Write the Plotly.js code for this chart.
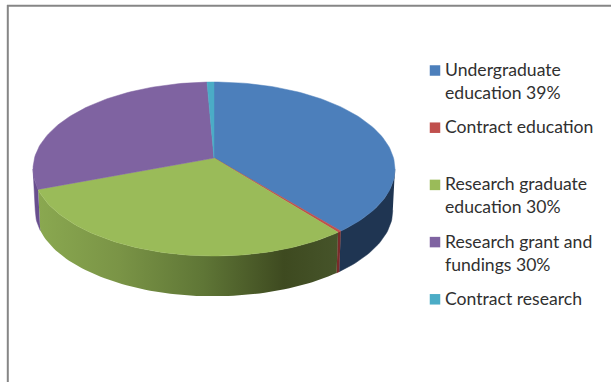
<!DOCTYPE html>
<html>
<head>
<meta charset="utf-8">
<script src="https://cdn.plot.ly/plotly-3.0.1.min.js"></script>
<style>html,body{margin:0;padding:0;background:#fff;overflow:hidden}</style>
</head>
<body>
<div id="chart" style="width:611px;height:382px"></div>
<script>
// Budget shares, clockwise from twelve o'clock
const categories = ["Undergraduate education", "Contract education", "Research graduate education", "Research grant and fundings", "Contract research"];
const shares = [39, 0.3, 30, 30, 0.7];
const legendLabels = ["Undergraduate<br>education 39%", "Contract education", "Research graduate<br>education 30%", "Research grant and<br>fundings 30%", "Contract research"];
const topColors = ["#4c7fbb", "#c0504d", "#9abb59", "#7f63a1", "#4bacc6"];
const wallColors = ["#1f3552", "#7a2b2a", "#5f7636", "#684f8e", "#2d7f95"];
// Rim shading of the large front slice, left to right
const greenWallScale = [[0, "#8aa850"], [0.27, "#7a9446"], [0.55, "#5f7636"], [0.82, "#3e4a20"], [1, "#46542a"]];

// Disc projection: pixel centre, half-axes and perspective strength
const cx = 214, cy = 158, halfW = 179.5, halfH = 85.6, persp = 0.1264;
const wallDrop = 41.5, wallShrink = 0.988;

function rimTop(deg) {
  const t = deg * Math.PI / 180, X = Math.sin(t), Y = -Math.cos(t), w = 1 - persp * Y;
  return [halfW * X / w, halfH * Y / w];
}
function arc(a0, a1) {
  const n = Math.max(2, Math.ceil((a1 - a0) / 1.5)), pts = [];
  for (let i = 0; i <= n; i++) pts.push(rimTop(a0 + (a1 - a0) * i / n));
  return pts;
}

// Only the front part of the rim faces the viewer; it runs between the two silhouette angles
const frontStart = 90 + Math.asin(persp) * 180 / Math.PI, frontEnd = 360 - frontStart;

const total = shares.reduce((s, v) => s + v, 0);
const walls = [], tops = [];
let angle = 0;
shares.forEach((v, i) => {
  const a0 = angle, a1 = angle + 360 * v / total;
  angle = a1;
  const rim = arc(a0, a1);

  const w0 = Math.max(a0, frontStart), w1 = Math.min(a1, frontEnd);
  if (w1 > w0) {
    const front = arc(w0, w1);
    const wx = front.map(p => cx + p[0]).concat(front.slice().reverse().map(p => cx + p[0] * wallShrink));
    const wy = front.map(p => cy + p[1]).concat(front.slice().reverse().map(p => cy + p[1] * wallShrink + wallDrop));
    const wall = {
      type: "scatter", mode: "lines", x: wx, y: wy, fill: "toself", name: categories[i],
      line: {width: 0.5, color: wallColors[i]}, fillcolor: wallColors[i], hoverinfo: "skip", showlegend: false
    };
    if (i === 2) {
      wall.fillgradient = {type: "horizontal", colorscale: greenWallScale};
      wall.line = {width: 0};
    }
    walls.push(wall);
  }

  tops.push({
    type: "scatter", mode: "lines", fill: "toself", name: categories[i],
    x: [cx].concat(rim.map(p => cx + p[0]), [cx]),
    y: [cy].concat(rim.map(p => cy + p[1]), [cy]),
    line: {width: 0.5, color: topColors[i]}, fillcolor: topColors[i], hoverinfo: "skip", showlegend: false
  });
});

// Key on the right: one swatch and one label per category
const keyX = 435, keyTextX = 442.5, keyFirstY = 70.5, keyPitch = 57.2;
const keyY = categories.map((_, i) => keyFirstY + keyPitch * i);
const swatches = {
  type: "scatter", mode: "markers", x: categories.map(() => keyX), y: keyY, hoverinfo: "skip", showlegend: false,
  marker: {symbol: "square", size: 10.5, color: topColors, line: {width: 0}}
};
const keyText = legendLabels.map((t, i) => ({
  xref: "x", yref: "y", x: keyTextX, y: keyY[i] - 13.5, text: t, showarrow: false,
  xanchor: "left", yanchor: "top", align: "left",
  font: {family: "Lato, Carlito, sans-serif", size: 17.6, color: "#303030"}
}));

const hidden = {visible: false, fixedrange: true};
Plotly.newPlot("chart", walls.concat(tops, [swatches]), {
  width: 611, height: 382, margin: {l: 0, r: 0, t: 0, b: 0},
  paper_bgcolor: "#fff", plot_bgcolor: "#fff", showlegend: false,
  xaxis: Object.assign({range: [0, 611]}, hidden),
  yaxis: Object.assign({range: [382, 0]}, hidden),
  annotations: keyText,
  shapes: [
    {type: "line", xref: "x", yref: "y", x0: 7.8, x1: 7.8, y0: 5, y1: 382, line: {color: "#868686", width: 2}},
    {type: "line", xref: "x", yref: "y", x0: 7, x1: 611, y0: 5.8, y1: 5.8, line: {color: "#868686", width: 2}}
  ]
}, {staticPlot: true, displayModeBar: false});
</script>
</body>
</html>
